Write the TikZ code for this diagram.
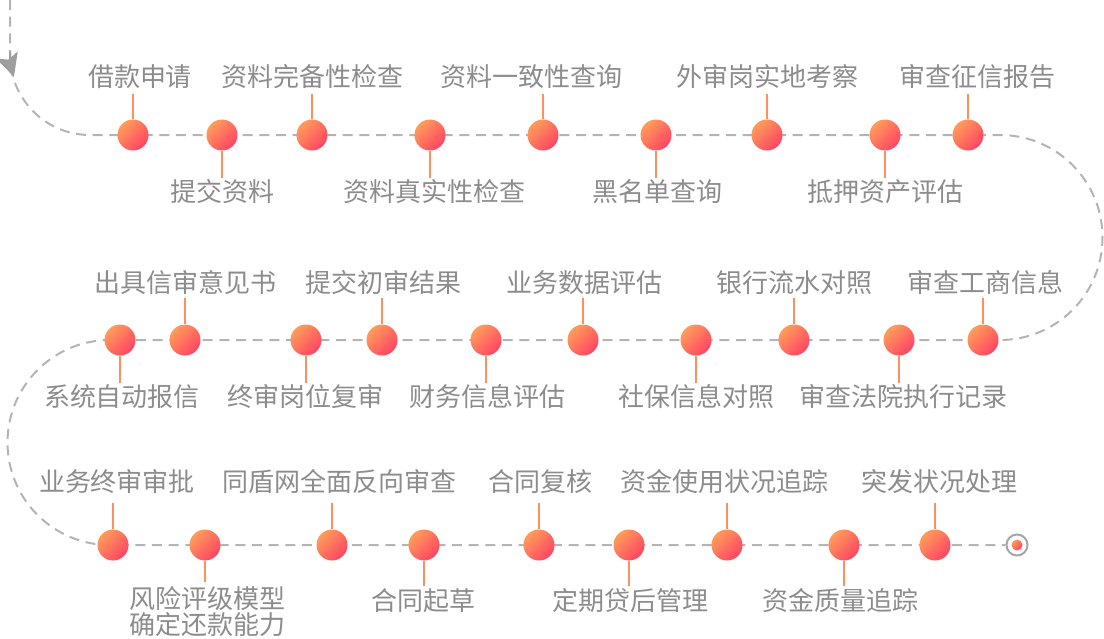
\documentclass[tikz,border=0pt]{standalone}
\usepackage{fontspec}
\newfontfamily\cjkfont{Noto Sans CJK SC}
\usetikzlibrary{positioning, arrows.meta, backgrounds}
\definecolor{textgray}{HTML}{8C8C8C}
\definecolor{trackgray}{HTML}{B4B4B4}
\definecolor{ringgray}{HTML}{A6A6A6}
\definecolor{tipgray}{HTML}{9E9E9E}
\definecolor{dotorange}{HTML}{FF9D5A}
\definecolor{dotred}{HTML}{FF4464}
\definecolor{stemorange}{HTML}{FF8F5E}
\tikzset{
    dot/.style={circle, minimum size=23.25pt, inner sep=0pt, top color=dotorange, bottom color=dotred, shading angle=45},
    lbl/.style={font=\cjkfont\fontsize{19.5pt}{19.5pt}\selectfont, text=textgray, inner sep=0pt, align=center, text height=0.88em, text depth=0.12em},
    stem/.style={draw=stemorange, line width=1.5pt, shorten >=#1},
    stem/.default=8.25pt,
    track/.style={draw=trackgray, line width=1.5pt, dash pattern=on 7.5pt off 5pt},
    ring/.style={circle, draw=ringgray, line width=1.5pt, minimum size=15.75pt, inner sep=0pt},
    enddot/.style={circle, minimum size=8.25pt, inner sep=0pt, top color=dotorange, bottom color=dotred, shading angle=45}
}

\begin{document}
\begin{tikzpicture}[x=0.75pt, y=-0.75pt]
    \useasboundingbox (0,0) rectangle (1104,639);
    \coordinate (start) at (10,0);

    % Row 1
    \node[dot] (a1) at (133,135) {};
    \node[dot] (a2) at (222,135) {};
    \node[dot] (a3) at (312,135) {};
    \node[dot] (a4) at (430,135) {};
    \node[dot] (a5) at (543,135) {};
    \node[dot] (a6) at (656,135) {};
    \node[dot] (a7) at (767,135) {};
    \node[dot] (a8) at (885,135) {};
    \node[dot] (a9) at (968,135) {};

    \node[lbl] (ta1) at (140,81) {借款申请};
    \node[lbl] (ta3) at (312,81) {资料完备性检查};
    \node[lbl] (ta5) at (531,81) {资料一致性查询};
    \node[lbl] (ta7) at (767,81) {外审岗实地考察};
    \node[lbl] (ta9) at (977,81) {审查征信报告};
    \node[lbl] (ba2) at (222,196) {提交资料};
    \node[lbl] (ba4) at (434,196) {资料真实性检查};
    \node[lbl] (ba6) at (657,196) {黑名单查询};
    \node[lbl] (ba8) at (885,196) {抵押资产评估};

    \draw[stem=4.5pt] (a1) -- (a1 |- ta1.south);
    \draw[stem=4.5pt] (a3) -- (a3 |- ta3.south);
    \draw[stem=4.5pt] (a5) -- (a5 |- ta5.south);
    \draw[stem=4.5pt] (a7) -- (a7 |- ta7.south);
    \draw[stem=4.5pt] (a9) -- (a9 |- ta9.south);
    \draw[stem] (a2) -- (a2 |- ba2.north);
    \draw[stem] (a4) -- (a4 |- ba4.north);
    \draw[stem] (a6) -- (a6 |- ba6.north);
    \draw[stem] (a8) -- (a8 |- ba8.north);

    % Row 2
    \node[dot] (b1) at (120,340) {};
    \node[dot] (b2) at (185,340) {};
    \node[dot] (b3) at (306,340) {};
    \node[dot] (b4) at (382,340) {};
    \node[dot] (b5) at (486,340) {};
    \node[dot] (b6) at (583,340) {};
    \node[dot] (b7) at (696,340) {};
    \node[dot] (b8) at (794,340) {};
    \node[dot] (b9) at (899,340) {};
    \node[dot] (b10) at (983,340) {};

    \node[lbl] (tb2) at (185,287) {出具信审意见书};
    \node[lbl] (tb4) at (383,287) {提交初审结果};
    \node[lbl] (tb6) at (584,287) {业务数据评估};
    \node[lbl] (tb8) at (794,287) {银行流水对照};
    \node[lbl] (tb10) at (985,287) {审查工商信息};
    \node[lbl] (bb1) at (122,401) {系统自动报信};
    \node[lbl] (bb3) at (305,401) {终审岗位复审};
    \node[lbl] (bb5) at (487,401) {财务信息评估};
    \node[lbl] (bb7) at (696,401) {社保信息对照};
    \node[lbl] (bb9) at (903,401) {审查法院执行记录};

    \draw[stem=3pt] (b2) -- (b2 |- tb2.south);
    \draw[stem=3pt] (b4) -- (b4 |- tb4.south);
    \draw[stem=3pt] (b6) -- (b6 |- tb6.south);
    \draw[stem=3pt] (b8) -- (b8 |- tb8.south);
    \draw[stem=3pt] (b10) -- (b10 |- tb10.south);
    \draw[stem] (b1) -- (b1 |- bb1.north);
    \draw[stem] (b3) -- (b3 |- bb3.north);
    \draw[stem] (b5) -- (b5 |- bb5.north);
    \draw[stem] (b7) -- (b7 |- bb7.north);
    \draw[stem] (b9) -- (b9 |- bb9.north);

    % Row 3
    \node[dot] (c1) at (113,545) {};
    \node[dot] (c2) at (205,545) {};
    \node[dot] (c3) at (332,545) {};
    \node[dot] (c4) at (424,545) {};
    \node[dot] (c5) at (539,545) {};
    \node[dot] (c6) at (629,545) {};
    \node[dot] (c7) at (727,545) {};
    \node[dot] (c8) at (844,545) {};
    \node[dot] (c9) at (935,545) {};
    \node[ring] (finish) at (1017,545) {};
    \node[enddot] (finishdot) at (finish) {};

    \node[lbl] (tc1) at (117,486) {业务终审审批};
    \node[lbl] (tc3) at (339,486) {同盾网全面反向审查};
    \node[lbl] (tc5) at (540,486) {合同复核};
    \node[lbl] (tc7) at (724,486) {资金使用状况追踪};
    \node[lbl] (tc9) at (939,486) {突发状况处理};
    \node[lbl] (bc2) at (207,629) {风险评级模型\\确定还款能力};
    \node[lbl] (bc4) at (423,605) {合同起草};
    \node[lbl] (bc6) at (630,605) {定期贷后管理};
    \node[lbl] (bc8) at (840,605) {资金质量追踪};

    \draw[stem=7.5pt] (c1) -- (c1 |- tc1.south);
    \draw[stem=7.5pt] (c3) -- (c3 |- tc3.south);
    \draw[stem=7.5pt] (c5) -- (c5 |- tc5.south);
    \draw[stem=7.5pt] (c7) -- (c7 |- tc7.south);
    \draw[stem=7.5pt] (c9) -- (c9 |- tc9.south);
    \draw[stem=9pt] (c4) -- (c4 |- bc4.north);
    \draw[stem=9pt] (c6) -- (c6 |- bc6.north);
    \draw[stem=9pt] (c8) -- (c8 |- bc8.north);
    \coordinate (s2) at (205,582);
    \draw[stem=0pt] (c2) -- (s2);

    % Dashed track
    \begin{scope}[on background layer]
        \draw[track] (start) -- ++(0,55) arc[start angle=180, end angle=90, radius=80]
            -- (a9.center) -- ++(32,0) arc[start angle=-90, end angle=90, radius=102.5]
            -- (b1.center) -- ++(-10,0) arc[start angle=-90, end angle=-270, radius=102.5]
            -- (finish.west);
    \end{scope}
    \draw[tipgray, line width=1.5pt, -{Stealth[length=17pt, width=17pt, inset=3.5pt]}] (start) ++(0,52) arc[start angle=180, end angle=162, radius=80];
\end{tikzpicture}
\end{document}
